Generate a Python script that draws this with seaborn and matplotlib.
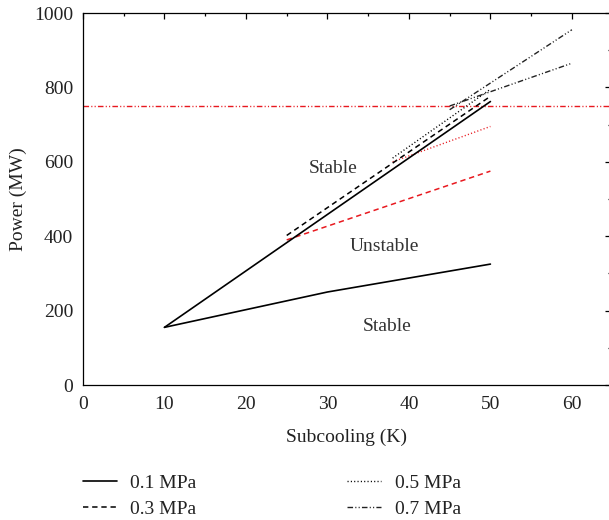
import matplotlib
matplotlib.use("Agg")
import matplotlib.pyplot as plt
import seaborn as sns
import pandas as pd
import numpy as np
from matplotlib.ticker import MultipleLocator

# ---- data ----
p01_upper_x = [10, 50]
p01_upper_y = [155, 762]
p01_lower_x = [10, 30, 50]
p01_lower_y = [155, 250, 325]

p03_upper_x = [25, 50]
p03_upper_y = [402, 776]
p03_lower_x = [25, 50]
p03_lower_y = [390, 575]

p05_upper_x = [38, 50]
p05_upper_y = [610, 795]
p05_lower_x = [38, 50]
p05_lower_y = [600, 695]

p07_upper_x = [45, 60]
p07_upper_y = [740, 955]
p07_lower_x = [45, 60]
p07_lower_y = [750, 865]

ref_x = [0, 65]
ref_y = [750, 750]

legend_labels = ["0.1 MPa", "0.3 MPa", "0.5 MPa", "0.7 MPa"]
region_labels = ["Stable", "Unstable", "Stable"]
region_x = [30.7, 37.0, 37.3]
region_y = [583, 372, 156]

sns.set_theme(style="white")
plt.rcParams["font.family"] = ["Liberation Serif", "DejaVu Serif"]

fig = plt.figure(figsize=(6.09, 5.20), dpi=100)
ax = fig.add_axes([83/609, 1-385/520, (611-83)/609, (385-13)/520])

RED = "#e8191f"
DASHDOT = (0, (4, 1.6, 0.8, 1.6, 0.8, 1.6))
DOT = (0, (0.8, 1.6))
DASH = (0, (3.5, 2.5))
FS = 14

def seg(x, y, color, ls, lw=1.1, label=None):
    df = pd.DataFrame({"x": x, "y": y})
    sns.lineplot(data=df, x="x", y="y", ax=ax, color=color, linestyle=ls,
                 linewidth=lw, label=label, legend=False, sort=False)

seg(ref_x, ref_y, RED, DASHDOT, lw=1.0)
seg(p01_lower_x, p01_lower_y, "black", "-", lw=1.2)
seg(p03_lower_x, p03_lower_y, RED, DASH, lw=1.1)
seg(p05_lower_x, p05_lower_y, RED, DOT, lw=1.0)
seg(p07_lower_x, p07_lower_y, "#222222", DASHDOT, lw=1.0)
seg(p01_upper_x, p01_upper_y, "black", "-", lw=1.2, label=legend_labels[0])
seg(p03_upper_x, p03_upper_y, "black", DASH, lw=1.1, label=legend_labels[1])
seg(p05_upper_x, p05_upper_y, "black", DOT, lw=1.0, label=legend_labels[2])
seg(p07_upper_x, p07_upper_y, "#222222", DASHDOT, lw=1.0, label=legend_labels[3])

for t, x, y in zip(region_labels, region_x, region_y):
    ax.text(x, y, t, ha="center", va="center", fontsize=FS, color="#333333")

ax.set_xlim(0, 64.8)
ax.set_ylim(0, 1000)
ax.xaxis.set_major_locator(MultipleLocator(10))
ax.xaxis.set_minor_locator(MultipleLocator(5))
ax.yaxis.set_major_locator(MultipleLocator(200))
ax.yaxis.set_minor_locator(MultipleLocator(100))
ax.tick_params(which="both", direction="in", top=True, right=True,
               color="black", width=0.9, labelsize=FS, labelcolor="#222222")
ax.tick_params(which="major", length=4.5)
ax.tick_params(which="minor", length=2.2)
ax.tick_params(axis="x", which="major", pad=8)
ax.tick_params(axis="y", which="major", pad=7)
for s in ax.spines.values():
    s.set_color("black")
    s.set_linewidth(0.9)
ax.set_xlabel("Subcooling (K)", fontsize=FS, color="#222222", labelpad=11)
ax.set_ylabel("Power (MW)", fontsize=FS, color="#222222", labelpad=5)

handles, labels = ax.get_legend_handles_labels()
fig.legend(handles, labels,
           loc="upper left", bbox_to_anchor=(65/609, 1-457/520), ncol=2,
           frameon=False, fontsize=FS, handlelength=1.75, handletextpad=0.7,
           columnspacing=7.75, labelspacing=0.4, labelcolor="#222222")

fig.savefig("out.png", dpi=100)
